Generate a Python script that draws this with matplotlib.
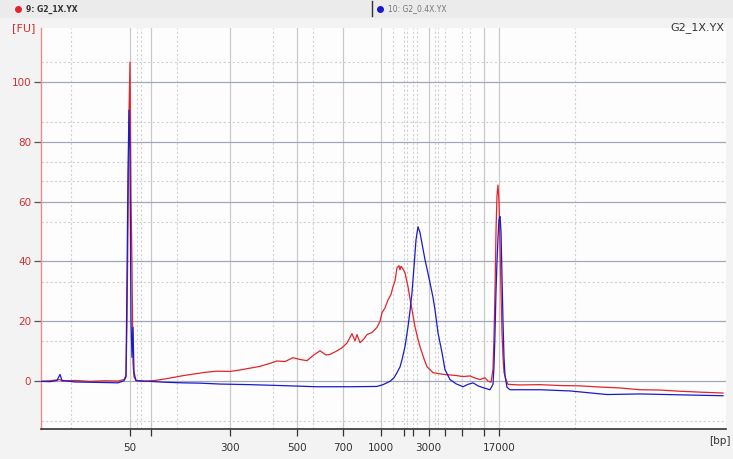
import matplotlib.pyplot as plt

# migration time (s) and fluorescence (FU)
red_t = [20.0, 20.9, 21.9, 22.1, 23.4, 24.9, 26.4, 27.7, 28.3, 28.5, 28.6, 28.7, 28.8,
         28.9, 29.0, 29.1, 29.2, 29.3, 29.5, 30.4, 31.4, 32.4, 33.4, 34.2, 35.4, 36.4,
         37.6, 38.9, 39.9, 40.9, 41.9, 42.9, 43.6, 44.4, 45.2, 45.9, 46.6, 47.2, 47.9,
         48.5, 48.9, 49.5, 50.1, 50.6, 51.1, 51.4, 51.6, 51.9, 52.3, 52.6, 53.1, 53.6,
         53.9, 54.1, 54.4, 54.7, 55.0, 55.2, 55.4, 55.6, 55.8, 55.9, 56.0, 56.2, 56.4,
         56.7, 56.9, 57.1, 57.4, 57.7, 57.9, 58.3, 58.6, 59.2, 59.9, 60.6, 61.4, 62.2,
         62.9, 63.5, 63.9, 64.4, 64.7, 65.0, 65.2, 65.3, 65.4, 65.5, 65.6, 65.7, 65.8,
         65.9, 66.0, 66.1, 66.2, 66.3, 66.5, 66.7, 67.9, 69.9, 71.9, 73.9, 75.9, 77.9,
         79.9, 81.9, 83.9, 85.9, 88.2]
red_fu = [0.0, 0.2, 0.6, 0.1, 0.3, 0.0, 0.2, 0.1, 0.6, 2, 20, 52, 90,
          106.5, 62, 38, 6, 1.5, 0.3, 0.0, 0.3, 0.8, 1.4, 1.9, 2.5, 3.0,
          3.4, 3.3, 3.8, 4.4, 5.0, 6.0, 6.8, 6.6, 7.9, 7.3, 6.9, 8.6, 10.2,
          8.8, 9.0, 10.0, 11.2, 12.8, 15.9, 13.5, 15.6, 12.9, 14.2, 15.6, 16.3, 18.0,
          20.0, 22.9, 24.5, 27.2, 29.0, 31.6, 33.5, 37.9, 38.6, 37.2, 38.4, 37.5, 36.2,
          31.6, 27.5, 23.9, 18.2, 14.0, 11.6, 7.5, 4.9, 2.9, 2.5, 2.2, 2.0, 1.6,
          1.8, 1.0, 0.6, 1.2, 0.1, -0.3, 4, 15, 30, 50, 62, 65.5, 60,
          45, 30, 16, 8, 3, 0.5, -1.0, -1.2, -1.1, -1.4, -1.5, -1.9, -2.2,
          -2.8, -2.9, -3.3, -3.6, -3.9]

blue_t = [20.0, 20.9, 21.6, 21.9, 22.1, 23.4, 24.9, 26.4, 27.7, 28.3, 28.5, 28.6, 28.7,
          28.8, 28.9, 29.0, 29.1, 29.2, 29.3, 29.5, 30.9, 32.4, 34.2, 35.9, 37.9, 40.9,
          43.9, 47.6, 50.9, 53.6, 54.2, 54.9, 55.3, 55.6, 55.9, 56.1, 56.4, 56.7, 56.9,
          57.1, 57.3, 57.5, 57.7, 57.9, 58.1, 58.4, 58.7, 58.9, 59.2, 59.4, 59.7, 60.1,
          60.4, 60.9, 61.5, 62.2, 62.7, 63.2, 63.7, 64.2, 64.9, 65.2, 65.3, 65.4, 65.5,
          65.6, 65.7, 65.8, 65.9, 66.0, 66.1, 66.2, 66.3, 66.4, 66.6, 66.9, 69.9, 72.9,
          76.6, 79.9, 83.9, 88.2]
blue_fu = [0.0, -0.1, 0.3, 2.3, 0.3, -0.2, -0.3, -0.4, -0.5, 0.2, 1.5, 35, 70,
           90.5, 75, 20, 8, 18, 3, 0.2, 0.0, -0.3, -0.5, -0.6, -0.9, -1.1,
           -1.4, -1.8, -1.8, -1.7, -1.1, 0.0, 1.2, 2.9, 4.8, 7.2, 11.6, 18.2, 23.5,
           29.6, 38.2, 47.2, 51.6, 49.6, 46.0, 40.6, 36.0, 32.9, 28.0, 23.9, 16.2, 9.6,
           3.9, 0.6, -0.8, -1.8, -1.0, -0.5, -1.5, -2.1, -2.8, -1, 5, 16, 30,
           40, 48, 54, 55, 50, 35, 20, 8, 2, -2.0, -2.8, -2.8, -3.2,
           -4.4, -4.2, -4.5, -4.8]

# ladder positions (s) and their size labels
ladder_t = [28.9, 31.0, 38.9, 45.6, 50.2, 53.96, 56.26, 57.2, 58.77, 60.4, 62.1, 64.28, 65.78]
ladder_lbl = ["50", "", "300", "500", "700", "1000", "", "", "3000", "", "", "", "17000"]
solid_t = [28.9, 31.0, 38.9, 45.6, 50.2, 53.96, 58.77, 64.28, 65.78]
dotted_t = [23.0, 29.57, 29.97, 33.6, 43.2, 47.2, 55.2, 56.26, 56.57, 57.2, 57.57,
            59.4, 59.73, 60.4, 62.1, 62.9, 73.4]

fu_ticks = [0, 20, 40, 60, 80, 100]
fu_dotted = [-13.3, 13.3, 33.3, 53.3, 66.7, 73.3, 86.7, 106.7]

W, H = 733, 459
fig = plt.figure(figsize=(W / 100, H / 100), dpi=100, facecolor="#f3f3f3")
ax = fig.add_axes([41 / W, 30 / H, 685 / W, 401 / H], facecolor="#fdfdfd")

for t in solid_t:
    ax.axvline(t, color="#c9c9c9", lw=0.9, zorder=1)
for t in dotted_t:
    ax.axvline(t, color="#d2d2d2", lw=0.8, ls=(0, (2, 2)), zorder=1)
for v in fu_ticks:
    ax.axhline(v, color="#a3a8b8", lw=0.9, zorder=1)
for v in fu_dotted:
    ax.axhline(v, color="#d0d0d0", lw=0.8, ls=(0, (2, 2)), zorder=1)

ax.plot(red_t, red_fu, color="#e3242b", lw=0.9, zorder=3)
ax.plot(blue_t, blue_fu, color="#1a1acc", lw=0.9, zorder=4)

ax.set_xlim(20, 88.5)
ax.set_ylim(-15.9, 117.9)
ax.set_xticks(ladder_t)
ax.set_xticklabels(ladder_lbl)
ax.set_yticks(fu_ticks)
ax.tick_params(axis="x", length=5, width=0.9, color="#333333", labelsize=7.5,
               labelcolor="#333333", pad=5)
ax.tick_params(axis="y", length=5, width=0.9, color="#555555", labelsize=7.5,
               labelcolor="#d03030", pad=2)
for s in ["top", "right"]:
    ax.spines[s].set_visible(False)
ax.spines["left"].set_color("#f08a8a")
ax.spines["left"].set_linewidth(1.0)
ax.spines["bottom"].set_color("#333333")
ax.spines["bottom"].set_linewidth(1.2)

fig.text(12 / W, 1 - 28 / H, "[FU]", color="#d03030", fontsize=8, va="center")
fig.text(724 / W, 1 - 28 / H, "G2_1X.YX", color="#333333", fontsize=8,
         ha="right", va="center")
fig.text(731 / W, 1 - 441 / H, "[bp]", color="#333333", fontsize=7.5,
         ha="right", va="center")

# sample header strip
hd = fig.add_axes([0, 1 - 18 / H, 1, 18 / H], facecolor="#ececec")
hd.set_xlim(0, W)
hd.set_ylim(0, 18)
hd.axis("off")
hd.add_patch(plt.Rectangle((0, 0), W, 18, color="#ebebeb", zorder=0))
hd.plot([18], [9], "o", color="#e3242b", ms=4)
hd.text(26, 9, "9: G2_1X.YX", fontsize=5.5, fontweight="bold", color="#333333", va="center")
hd.plot([372, 372], [2, 17], color="#333333", lw=1)
hd.plot([380], [9], "o", color="#1a1acc", ms=4)
hd.text(388, 9, "10: G2_0.4X.YX", fontsize=5.5, color="#777777", va="center")

fig.savefig("out.png", dpi=100, facecolor=fig.get_facecolor())
